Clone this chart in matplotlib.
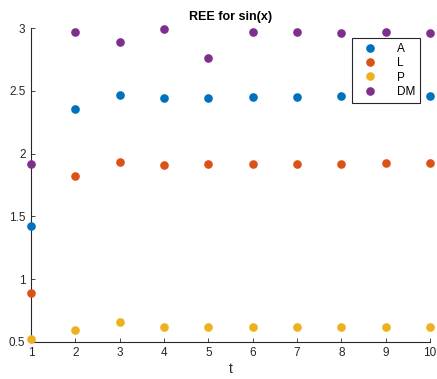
import matplotlib
matplotlib.use("Agg")
import matplotlib.pyplot as plt

plt.rcParams['font.family'] = ['Liberation Sans', 'DejaVu Sans']

# data
t = [1, 2, 3, 4, 5, 6, 7, 8, 9, 10]
ree_a = [1.42, 2.355, 2.47, 2.44, 2.445, 2.45, 2.45, 2.455, 2.455, 2.46]
ree_l = [0.89, 1.82, 1.935, 1.91, 1.915, 1.92, 1.92, 1.92, 1.925, 1.925]
ree_p = [0.525, 0.595, 0.655, 0.62, 0.62, 0.62, 0.62, 0.62, 0.62, 0.62]
ree_dm = [1.915, 2.965, 2.89, 2.995, 2.76, 2.97, 2.965, 2.96, 2.965, 2.96]

SERIES = [
    ("A", ree_a, "#0072BD"),
    ("L", ree_l, "#D95319"),
    ("P", ree_p, "#EDB120"),
    ("DM", ree_dm, "#7E2F8E"),
]

fig = plt.figure(figsize=(4.37, 3.79), dpi=100)
ax = fig.add_axes([0.071, 0.098, 0.913, 0.828])

for label, vals, color in SERIES:
    ax.plot(t, vals, "o", color=color, markersize=5.2, label=label,
            clip_on=False, zorder=3)

ax.set_xlim(1, 10)
ax.set_ylim(0.5, 3)
ax.set_xticks(range(1, 11))
ax.set_yticks([0.5, 1, 1.5, 2, 2.5, 3])
ax.set_yticklabels(["0.5", "1", "1.5", "2", "2.5", "3"])

for side in ["top", "right"]:
    ax.spines[side].set_visible(False)
for side in ["left", "bottom"]:
    ax.spines[side].set_color("#262626")
    ax.spines[side].set_linewidth(0.8)
ax.tick_params(direction="in", length=3, width=0.6, colors="#262626",
               labelsize=8.5, pad=4)

ax.set_title("REE for sin(x)", fontsize=9, fontweight="bold", pad=6)
ax.set_xlabel("t", fontsize=10, color="#262626", labelpad=2)

leg = ax.legend(loc="upper right", bbox_to_anchor=(0.975, 0.968),
                borderaxespad=0, fontsize=8.5,
                frameon=True, fancybox=False, handletextpad=1.2,
                borderpad=0.4, labelspacing=0.2, handlelength=2.2)
leg.set_zorder(5)
leg.get_frame().set_edgecolor("#262626")
leg.get_frame().set_linewidth(0.8)
leg.get_frame().set_alpha(1)

fig.savefig("out.png", dpi=100)
